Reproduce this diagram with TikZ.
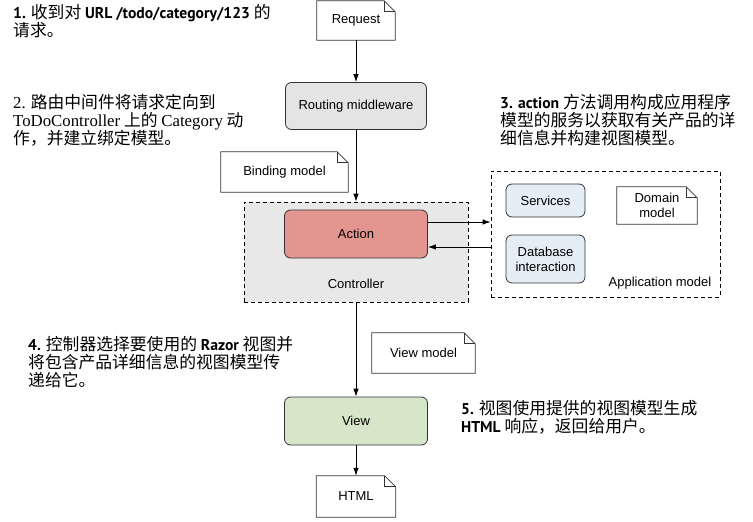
\documentclass[tikz,border=0pt]{standalone}
\usepackage{fontspec}
\usetikzlibrary{arrows.meta,calc}
\newfontfamily\cjk{Noto Sans CJK SC}
\newfontfamily\ptsans[Scale=0.93]{PT Sans}
\newfontfamily\lserif{Liberation Serif}
\newfontfamily\lsans{Liberation Sans}
\newcommand\latb[1]{{\ptsans\bfseries #1}}
\newcommand\ser[1]{{\lserif #1}}
\definecolor{routefill}{HTML}{E4E4E4}
\definecolor{ctrlfill}{HTML}{E8E8E8}
\definecolor{actfill}{HTML}{E3968F}
\definecolor{bluefill}{HTML}{E5EDF7}
\definecolor{viewfill}{HTML}{D6E6C9}
\definecolor{edge}{HTML}{333333}
\tikzset{
  box/.style={draw=edge, line width=0.8pt, rounded corners=6pt, inner sep=0pt, align=center, font=\lsans\fontsize{13}{15}\selectfont},
  docbox/.style={inner sep=0pt, align=center, font=\lsans\fontsize{13}{15}\selectfont},
  docline/.style={draw=edge, line width=0.7pt},
  dashbox/.style={draw=black, line width=0.8pt, dash pattern=on 4pt off 3pt, inner sep=0pt},
  note/.style={anchor=north west, inner sep=0pt, align=left, font=\cjk\fontsize{16.8}{18}\selectfont},
  arr/.style={draw=black, line width=0.8pt, -{Latex[length=8pt,width=5.5pt]}},
  lbl/.style={inner sep=0pt, font=\lsans\fontsize{13}{15}\selectfont}
}
\begin{document}
\begin{tikzpicture}[x=1pt,y=-1pt]
\useasboundingbox (0,0) rectangle (753,522);
% documents
\node[docbox, minimum width=78pt, minimum height=39pt] (req) at (356,20.5) {Request};
\node[docbox, minimum width=127pt, minimum height=40pt] (bind) at (284.5,172) {Binding model};
\node[docbox, minimum width=103pt, minimum height=40pt] (vm) at (423.5,353) {View model};
\node[docbox, minimum width=79pt, minimum height=41pt] (html) at (356,496.5) {HTML};
% boxes
\node[box, fill=routefill, minimum width=141pt, minimum height=47pt] (route) at (356,106) {Routing middleware};
\node[dashbox, fill=ctrlfill, minimum width=224pt, minimum height=100pt] (ctrl) at (356,252) {};
\node[box, fill=actfill, minimum width=143pt, minimum height=48pt] (act) at (356,234) {Action};
\node[lbl] (ctrllbl) at (356,284) {Controller};
\node[dashbox, minimum width=229pt, minimum height=126pt] (app) at (605.5,234) {};
\node[box, fill=bluefill, minimum width=79pt, minimum height=33pt] (serv) at (545.5,200.5) {Services};
\node[box, fill=bluefill, minimum width=79pt, minimum height=48pt] (db) at (545.5,259) {Database\\interaction};
\node[docbox, minimum width=80pt, minimum height=37pt] (dom) at (657,205.5) {Domain\\model};
\node[lbl] (applbl) at (660,283) {Application model};
\node[box, fill=viewfill, minimum width=143pt, minimum height=48pt] (view) at (356,421) {View};
% document outlines with folded corner
\foreach \n in {req,bind,vm,html,dom}{
  \draw[docline] (\n.north west) -- ([xshift=-11pt]\n.north east) -- ([yshift=-11pt]\n.north east) -- (\n.south east) -- (\n.south west) -- cycle;
  \draw[docline] ([xshift=-11pt]\n.north east) |- ([yshift=-11pt]\n.north east);
}
% connectors
\draw[arr] (req.south) -- (route.north);
\draw[arr] (route.south) -- (ctrl.north);
\draw[arr] (ctrl.south) -- (view.north);
\draw[arr] (view.south) -- (html.north);
\draw[arr] ([yshift=12pt]act.east) -- ([yshift=12pt]app.west);
\draw[arr] ([yshift=-13pt]app.west) -- ([yshift=-13pt]act.east);
% notes
\node[note] (n1) at (13,4) {\latb{1.} 收到对 \latb{URL /todo/category/123} 的\\请求。};
\node[note] (n2) at (13,94) {\ser{2.} 路由中间件将请求定向到\\\ser{ToDoController} 上的 \ser{Category} 动\\作，并建立绑定模型。};
\node[note] (n3) at (500,94) {\latb{3. action} 方法调用构成应用程序\\模型的服务以获取有关产品的详\\细信息并构建视图模型。};
\node[note] (n4) at (28,336) {\latb{4.} 控制器选择要使用的 \latb{Razor} 视图并\\将包含产品详细信息的视图模型传\\递给它。};
\node[note] (n5) at (461,400) {\latb{5.} 视图使用提供的视图模型生成\\\latb{HTML} 响应，返回给用户。};
\end{tikzpicture}
\end{document}
